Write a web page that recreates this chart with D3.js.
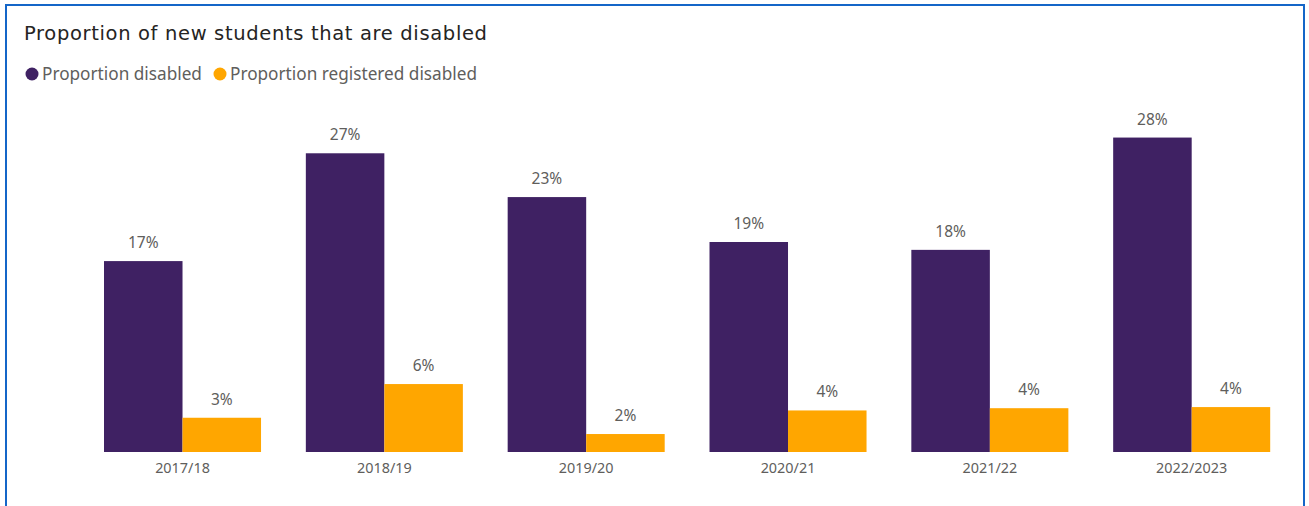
<!DOCTYPE html>
<html>
<head>
<meta charset="utf-8">
<script src="https://cdn.jsdelivr.net/npm/d3@7"></script>
<style>
  html, body { margin: 0; padding: 0; background: #fff; }
  svg { display: block; }
</style>
</head>
<body>
<svg id="chart" width="1309" height="506"></svg>
<script>
// Academic years shown along the x axis
const years = ["2017/18", "2018/19", "2019/20", "2020/21", "2021/22", "2022/2023"];
// Share of new students (percent)
const proportionDisabled = [17.0, 26.6, 22.7, 18.7, 18.0, 28.0];
const proportionRegistered = [3.05, 6.05, 1.6, 3.7, 3.9, 4.0];
const seriesNames = ["Proportion disabled", "Proportion registered disabled"];
const seriesColors = ["#3f2163", "#ffa600"];

const svg = d3.select("#chart");
const labelFont = "'Noto Sans', 'Open Sans', sans-serif";

// Visual frame
svg.append("rect")
  .attr("x", 6).attr("y", 5)
  .attr("width", 1298).attr("height", 520)
  .attr("fill", "#fff")
  .attr("stroke", "#1466c8")
  .attr("stroke-width", 2);

// Title
svg.append("text")
  .attr("x", 24).attr("y", 40)
  .attr("font-family", "'DejaVu Sans', sans-serif")
  .attr("font-size", 19.5)
  .attr("textLength", 463)
  .attr("lengthAdjust", "spacing")
  .attr("fill", "#252423")
  .text("Proportion of new students that are disabled");

// Legend
const legend = svg.append("g").attr("font-family", labelFont)
  .attr("font-size", 17.2).attr("fill", "#605e5c");
const legendX = [32, 220];
seriesNames.forEach((name, i) => {
  legend.append("circle")
    .attr("cx", legendX[i]).attr("cy", 74).attr("r", 6.5)
    .attr("fill", seriesColors[i]);
  legend.append("text")
    .attr("x", legendX[i] + 10).attr("y", 80)
    .text(name);
});

// Scales
const baseline = 452;
const x0 = d3.scaleBand().domain(years).range([81.6, 1292.6]).paddingInner(0.222).paddingOuter(0.111);
const x1 = d3.scaleBand().domain([0, 1]).range([0, x0.bandwidth()]);
const y = d3.scaleLinear().domain([0, 30]).range([baseline, baseline - 30 * 11.23]);

const rows = years.map((yr, i) => ({ year: yr, values: [proportionDisabled[i], proportionRegistered[i]] }));
const fmt = v => Math.round(v) + "%";

const groups = svg.append("g").selectAll("g")
  .data(rows).join("g")
  .attr("transform", d => `translate(${x0(d.year)},0)`);

groups.selectAll("rect")
  .data(d => d.values.map((v, s) => ({ v, s })))
  .join("rect")
  .attr("x", d => x1(d.s))
  .attr("y", d => y(d.v))
  .attr("width", x1.bandwidth())
  .attr("height", d => y(0) - y(d.v))
  .attr("fill", d => seriesColors[d.s]);

groups.selectAll("text")
  .data(d => d.values.map((v, s) => ({ v, s })))
  .join("text")
  .attr("x", d => x1(d.s) + x1.bandwidth() / 2)
  .attr("y", d => y(d.v) - 13)
  .attr("text-anchor", "middle")
  .attr("font-family", labelFont)
  .attr("font-size", 15.5)
  .attr("fill", "#605e5c")
  .text(d => fmt(d.v));

// Category axis
const xAxis = svg.append("g")
  .attr("transform", `translate(0,${baseline})`)
  .call(d3.axisBottom(x0).tickSize(0).tickPadding(11));
xAxis.select(".domain").remove();
xAxis.selectAll("text")
  .attr("font-family", labelFont)
  .attr("font-size", 14.4)
  .attr("fill", "#605e5c");
</script>
</body>
</html>
